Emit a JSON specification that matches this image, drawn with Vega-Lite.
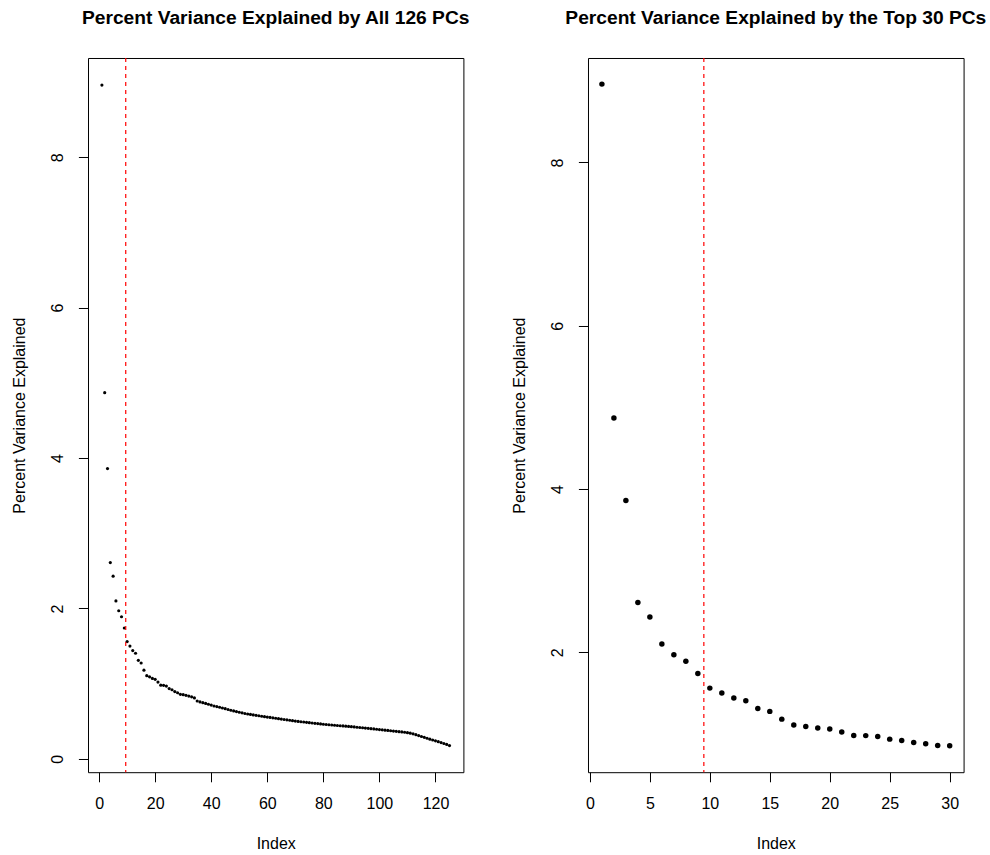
{
  "$schema": "https://vega.github.io/schema/vega-lite/v6.json",
  "background": "white",
  "padding": {"left": 11, "top": 8, "right": 0, "bottom": 0},
  "autosize": {"type": "pad"},
  "bounds": "flush",
  "spacing": 124,
  "datasets": {
    "pcs": [
      {"i": 1, "v": 8.96}, {"i": 2, "v": 4.87}, {"i": 3, "v": 3.86}, {"i": 4, "v": 2.61}, {"i": 5, "v": 2.43},
      {"i": 6, "v": 2.10}, {"i": 7, "v": 1.97}, {"i": 8, "v": 1.89}, {"i": 9, "v": 1.74}, {"i": 10, "v": 1.56},
      {"i": 11, "v": 1.50}, {"i": 12, "v": 1.44}, {"i": 13, "v": 1.405}, {"i": 14, "v": 1.31}, {"i": 15, "v": 1.275},
      {"i": 16, "v": 1.18}, {"i": 17, "v": 1.107}, {"i": 18, "v": 1.091}, {"i": 19, "v": 1.07}, {"i": 20, "v": 1.058},
      {"i": 21, "v": 1.021}, {"i": 22, "v": 0.98}, {"i": 23, "v": 0.978}, {"i": 24, "v": 0.968}, {"i": 25, "v": 0.935},
      {"i": 26, "v": 0.919}, {"i": 27, "v": 0.895}, {"i": 28, "v": 0.879}, {"i": 29, "v": 0.858}, {"i": 30, "v": 0.854},
      {"i": 31, "v": 0.845}, {"i": 32, "v": 0.835}, {"i": 33, "v": 0.825}, {"i": 34, "v": 0.811}, {"i": 35, "v": 0.77},
      {"i": 36, "v": 0.758}, {"i": 37, "v": 0.748}, {"i": 38, "v": 0.738}, {"i": 39, "v": 0.727}, {"i": 40, "v": 0.715},
      {"i": 41, "v": 0.703}, {"i": 42, "v": 0.695}, {"i": 43, "v": 0.686}, {"i": 44, "v": 0.677}, {"i": 45, "v": 0.668},
      {"i": 46, "v": 0.657}, {"i": 47, "v": 0.647}, {"i": 48, "v": 0.638}, {"i": 49, "v": 0.629}, {"i": 50, "v": 0.620},
      {"i": 51, "v": 0.612}, {"i": 52, "v": 0.604}, {"i": 53, "v": 0.597}, {"i": 54, "v": 0.591}, {"i": 55, "v": 0.585},
      {"i": 56, "v": 0.579}, {"i": 57, "v": 0.573}, {"i": 58, "v": 0.567}, {"i": 59, "v": 0.561}, {"i": 60, "v": 0.556},
      {"i": 61, "v": 0.551}, {"i": 62, "v": 0.546}, {"i": 63, "v": 0.540}, {"i": 64, "v": 0.535}, {"i": 65, "v": 0.529},
      {"i": 66, "v": 0.524}, {"i": 67, "v": 0.519}, {"i": 68, "v": 0.514}, {"i": 69, "v": 0.508}, {"i": 70, "v": 0.503},
      {"i": 71, "v": 0.498}, {"i": 72, "v": 0.494}, {"i": 73, "v": 0.490}, {"i": 74, "v": 0.486}, {"i": 75, "v": 0.482},
      {"i": 76, "v": 0.477}, {"i": 77, "v": 0.473}, {"i": 78, "v": 0.469}, {"i": 79, "v": 0.465}, {"i": 80, "v": 0.461},
      {"i": 81, "v": 0.457}, {"i": 82, "v": 0.454}, {"i": 83, "v": 0.450}, {"i": 84, "v": 0.447}, {"i": 85, "v": 0.444},
      {"i": 86, "v": 0.441}, {"i": 87, "v": 0.438}, {"i": 88, "v": 0.435}, {"i": 89, "v": 0.432}, {"i": 90, "v": 0.428},
      {"i": 91, "v": 0.425}, {"i": 92, "v": 0.421}, {"i": 93, "v": 0.417}, {"i": 94, "v": 0.414}, {"i": 95, "v": 0.410},
      {"i": 96, "v": 0.406}, {"i": 97, "v": 0.402}, {"i": 98, "v": 0.398}, {"i": 99, "v": 0.394}, {"i": 100, "v": 0.390},
      {"i": 101, "v": 0.386}, {"i": 102, "v": 0.382}, {"i": 103, "v": 0.378}, {"i": 104, "v": 0.374}, {"i": 105, "v": 0.370},
      {"i": 106, "v": 0.366}, {"i": 107, "v": 0.362}, {"i": 108, "v": 0.358}, {"i": 109, "v": 0.354}, {"i": 110, "v": 0.349},
      {"i": 111, "v": 0.342}, {"i": 112, "v": 0.333}, {"i": 113, "v": 0.322}, {"i": 114, "v": 0.310}, {"i": 115, "v": 0.298},
      {"i": 116, "v": 0.286}, {"i": 117, "v": 0.274}, {"i": 118, "v": 0.262}, {"i": 119, "v": 0.251}, {"i": 120, "v": 0.240},
      {"i": 121, "v": 0.229}, {"i": 122, "v": 0.217}, {"i": 123, "v": 0.205}, {"i": 124, "v": 0.192}, {"i": 125, "v": 0.177}
    ],
    "cut": [{"x": 9.5}]
  },
  "config": {
    "font": "Liberation Sans",
    "view": {"stroke": "black", "strokeWidth": 1},
    "axis": {
      "domain": false, "grid": false, "ticks": true, "tickColor": "black", "tickSize": 9.6, "tickWidth": 1,
      "labelFont": "Liberation Sans", "labelFontSize": 16, "labelColor": "black",
      "titleFont": "Liberation Sans", "titleFontSize": 16, "titleFontWeight": "normal", "titleColor": "black",
      "labelFlush": false, "labelOverlap": false
    },
    "axisX": {"labelAngle": 0, "labelBaseline": "alphabetic", "labelPadding": 27.2, "titleBaseline": "alphabetic", "titleY": 76},
    "axisY": {"labelAngle": -90, "labelAlign": "center", "labelBaseline": "alphabetic", "labelPadding": 15.7, "titleAngle": -90, "titleBaseline": "alphabetic", "titleX": -63.4},
    "title": {"font": "Liberation Sans", "fontSize": 19.2, "fontWeight": "bold", "color": "black", "anchor": "middle", "baseline": "alphabetic", "offset": 29.6, "frame": "group"}
  },
  "hconcat": [
    {
      "width": 375.4,
      "height": 714.2,
      "title": "Percent Variance Explained by All 126 PCs",
      "layer": [
        {
          "data": {"name": "pcs"},
          "mark": {"type": "circle", "color": "black", "opacity": 1, "size": 10},
          "encoding": {
            "x": {"field": "i", "type": "quantitative", "scale": {"domain": [-3.96, 129.96], "nice": false, "zero": false}, "axis": {"title": "Index", "values": [0, 20, 40, 60, 80, 100, 120]}},
            "y": {"field": "v", "type": "quantitative", "scale": {"domain": [-0.177, 9.32], "nice": false, "zero": false}, "axis": {"title": "Percent Variance Explained", "values": [0, 2, 4, 6, 8]}}
          }
        },
        {
          "data": {"name": "cut"},
          "mark": {"type": "rule", "color": "#FF0000", "strokeWidth": 1.2, "strokeDash": [4, 4]},
          "encoding": {"x": {"field": "x", "type": "quantitative"}}
        }
      ]
    },
    {
      "width": 375.6,
      "height": 714.2,
      "title": "Percent Variance Explained by the Top 30 PCs",
      "layer": [
        {
          "data": {"name": "pcs"},
          "transform": [{"filter": "datum.i <= 30"}],
          "mark": {"type": "circle", "color": "black", "opacity": 1, "size": 30},
          "encoding": {
            "x": {"field": "i", "type": "quantitative", "scale": {"domain": [-0.16, 31.16], "nice": false, "zero": false}, "axis": {"title": "Index", "values": [0, 5, 10, 15, 20, 25, 30]}},
            "y": {"field": "v", "type": "quantitative", "scale": {"domain": [0.53, 9.28], "nice": false, "zero": false}, "axis": {"title": "Percent Variance Explained", "values": [2, 4, 6, 8]}}
          }
        },
        {
          "data": {"name": "cut"},
          "mark": {"type": "rule", "color": "#FF0000", "strokeWidth": 1.2, "strokeDash": [4, 4]},
          "encoding": {"x": {"field": "x", "type": "quantitative"}}
        }
      ]
    }
  ]
}
